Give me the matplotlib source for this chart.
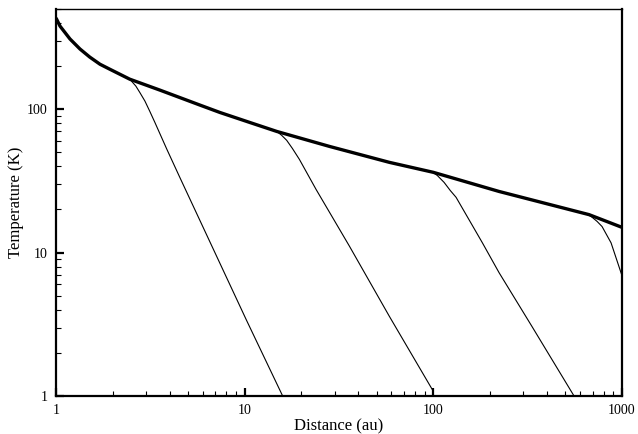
"""
Temperature profile vs distance, log-log.
"""
import matplotlib
matplotlib.use('Agg')
import matplotlib.pyplot as plt
from matplotlib import rcParams
from matplotlib.ticker import LogLocator, NullFormatter, FixedLocator, FixedFormatter

rcParams['font.family'] = ['Liberation Serif', 'DejaVu Serif']
rcParams['font.size'] = 10

# main (thick) profile
main_x = [1.0, 1.05, 1.186, 1.34, 1.51, 1.71, 1.93, 2.46, 3.55, 5.78, 7.38, 10.6, 14.8, 28.2, 58.5, 100, 223, 669, 1000]
main_y = [433, 380, 309, 263, 231, 206, 190, 162, 136, 107, 95, 81, 70, 55, 42.6, 36.3, 26.7, 18.4, 15.0]

# thin branches dropping off the main profile
b1_x = [2.46, 2.65, 2.78, 2.96, 3.14, 3.34, 3.87, 4.53, 10.2, 15.9]
b1_y = [162, 145, 131, 114, 96.8, 81.1, 52.5, 33.5, 3.40, 1.0]

b2_x = [14.7, 15.7, 16.7, 17.9, 19.5, 23.9, 35.9, 58.5, 99.1, 99.8]
b2_y = [70.5, 65.8, 60.7, 53.3, 44.7, 27.6, 11.1, 3.59, 1.10, 1.0]

b3_x = [99.4, 105, 114, 123, 132, 182, 223, 334, 557]
b3_y = [36.3, 34.5, 30.9, 27.1, 24.3, 11.7, 7.25, 3.04, 1.0]

b4_x = [637, 685, 738, 784, 875, 964, 1000]
b4_y = [18.9, 17.9, 16.5, 15.2, 11.7, 7.98, 6.9]

fig = plt.figure(figsize=(6.38, 4.34), dpi=100)
ax = fig.add_axes([56/638, 1 - 396/434, (622 - 56)/638, (396 - 9)/434])

for bx, by in [(b1_x, b1_y), (b2_x, b2_y), (b3_x, b3_y), (b4_x, b4_y)]:
    ax.plot(bx, by, color='black', lw=0.8)
ax.plot(main_x, main_y, color='black', lw=2.4, solid_capstyle='butt')

ax.set_xscale('log')
ax.set_yscale('log')
ax.set_xlim(1, 1000)
ax.set_ylim(1, 500)

ax.xaxis.set_major_locator(FixedLocator([1, 10, 100, 1000]))
ax.xaxis.set_major_formatter(FixedFormatter(['1', '10', '100', '1000']))
ax.yaxis.set_major_locator(FixedLocator([1, 10, 100]))
ax.yaxis.set_major_formatter(FixedFormatter(['1', '10', '100']))
ax.xaxis.set_minor_locator(LogLocator(base=10, subs=range(2, 10)))
ax.yaxis.set_minor_locator(LogLocator(base=10, subs=range(2, 10)))
ax.xaxis.set_minor_formatter(NullFormatter())
ax.yaxis.set_minor_formatter(NullFormatter())

ax.tick_params(which='major', direction='in', length=6, width=1.6, top=False, right=False, pad=6)
ax.tick_params(which='minor', direction='in', length=3.5, width=0.8, top=False, right=False)

for side in ['left', 'bottom', 'right']:
    ax.spines[side].set_linewidth(1.6)
ax.spines['top'].set_linewidth(1.0)

ax.set_xlabel('Distance (au)', fontsize=12, labelpad=1)
ax.set_ylabel('Temperature (K)', fontsize=12, labelpad=2)

fig.savefig('out.png', dpi=100)
